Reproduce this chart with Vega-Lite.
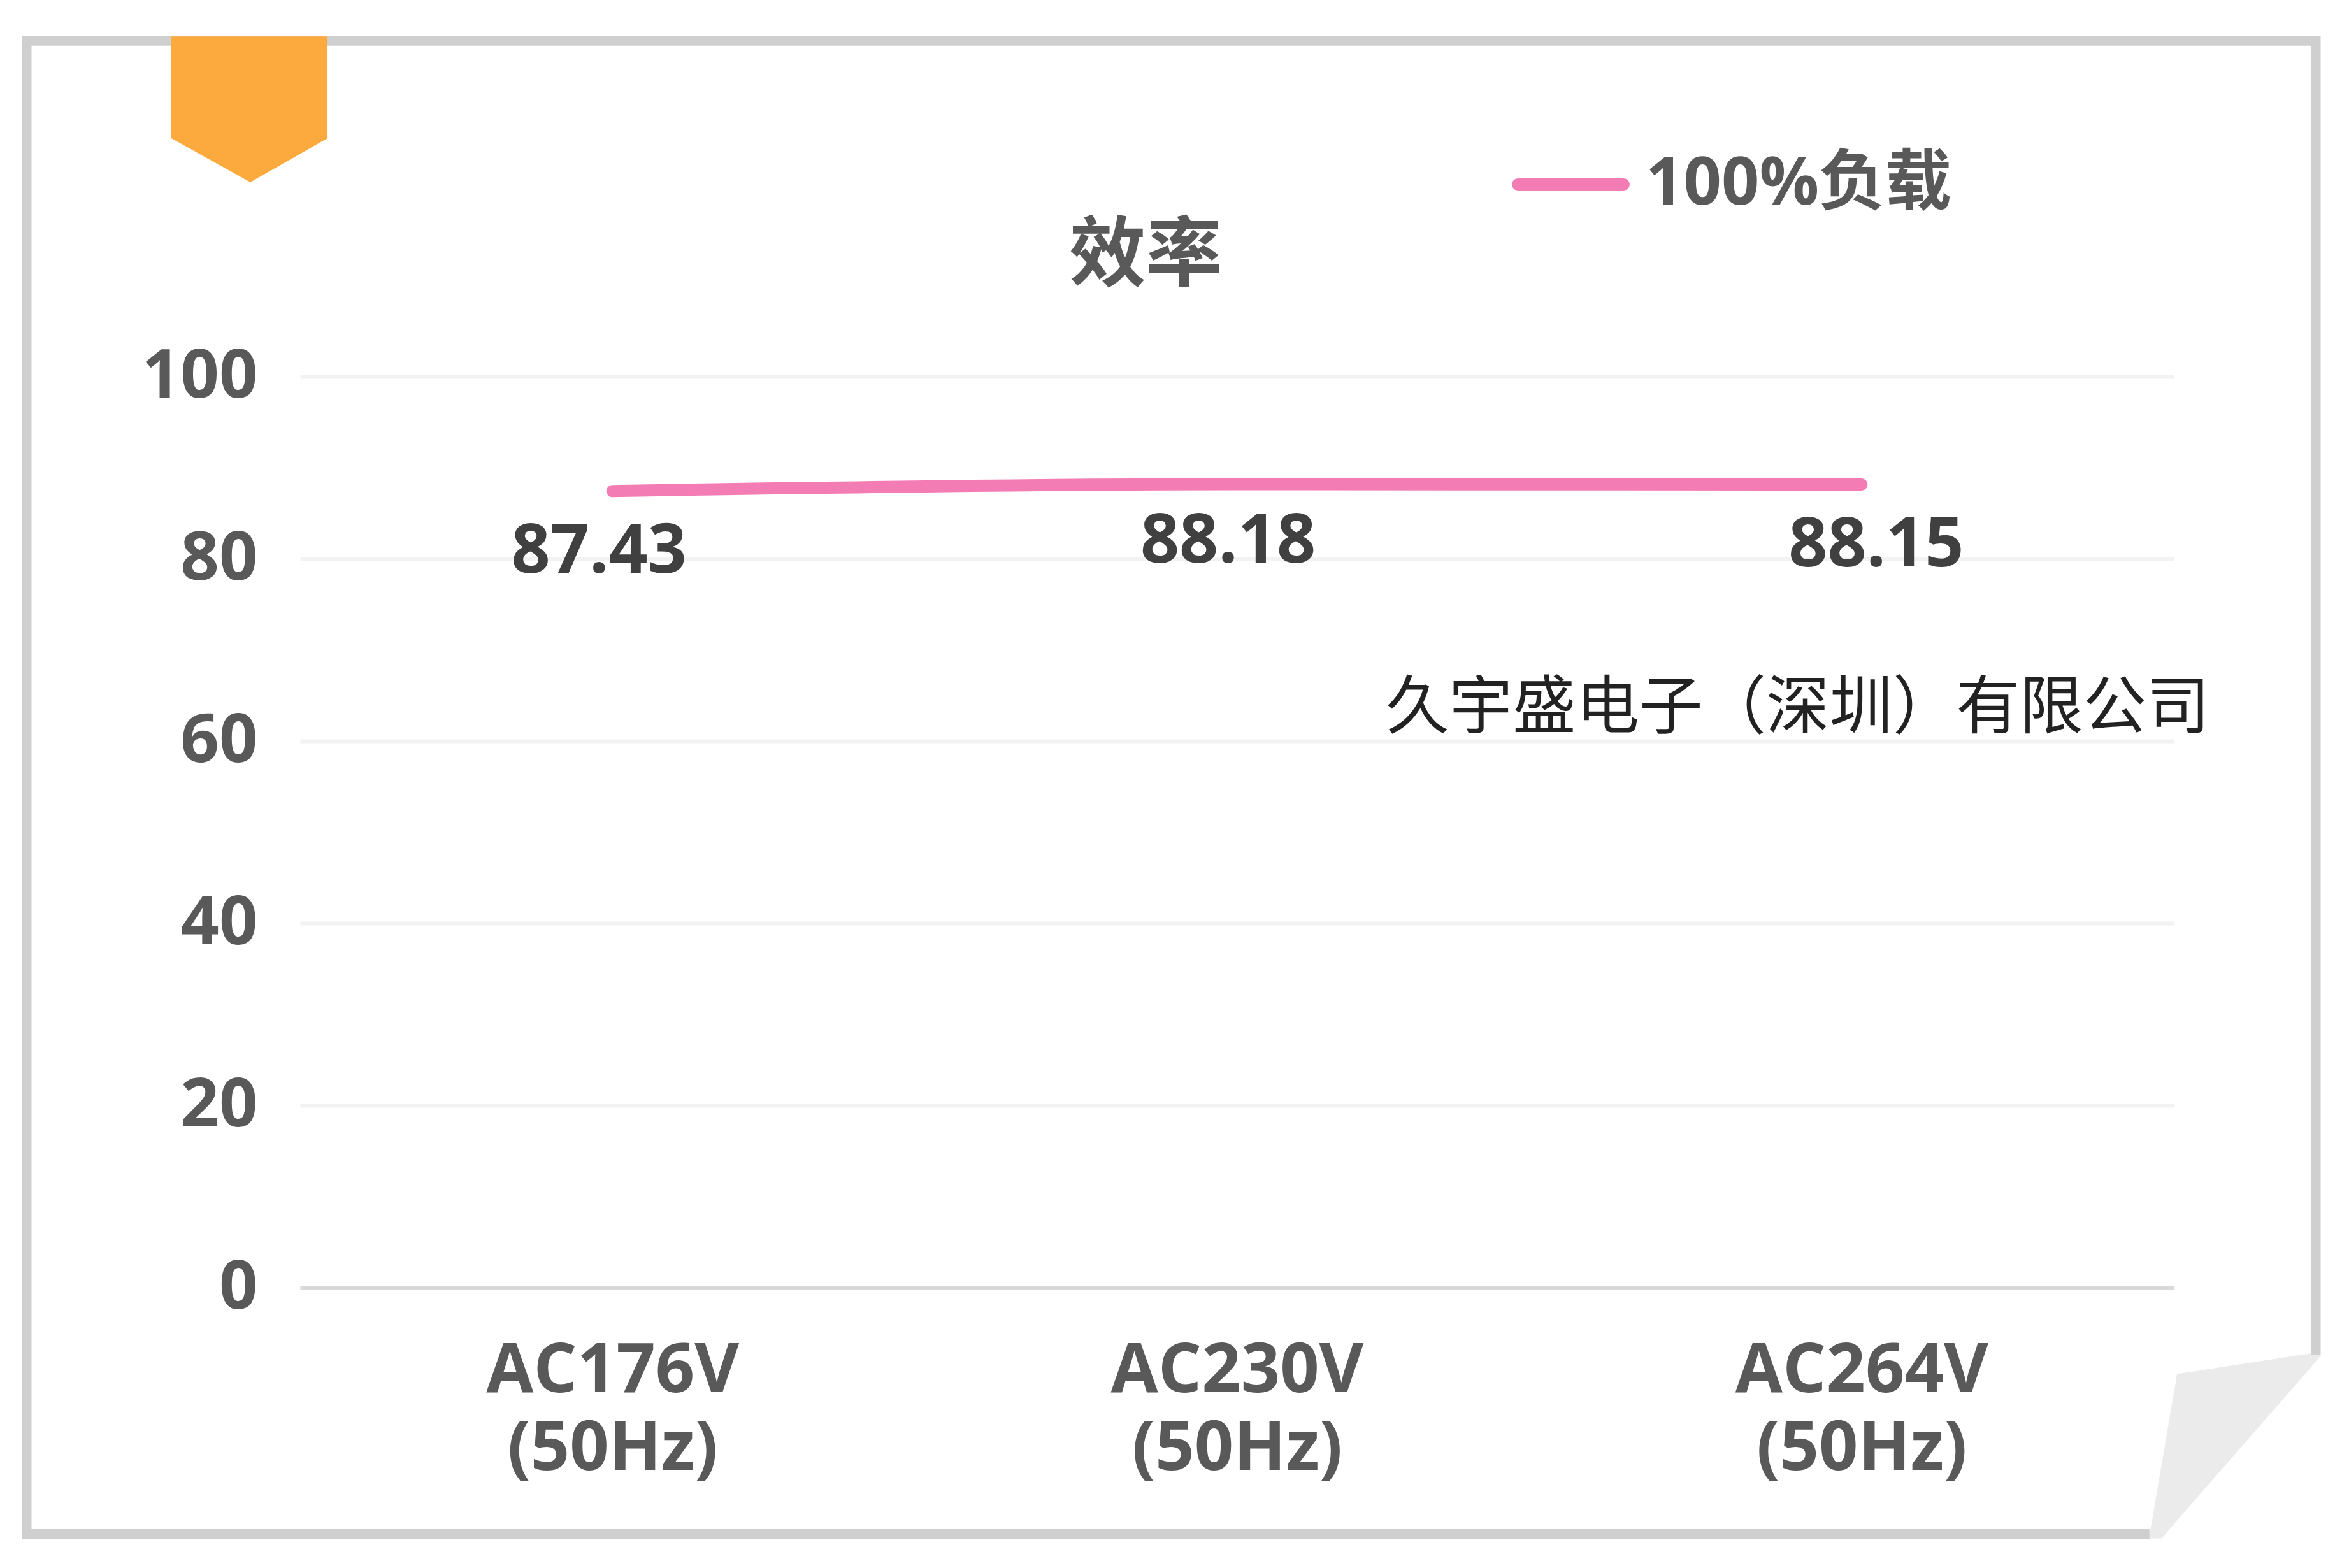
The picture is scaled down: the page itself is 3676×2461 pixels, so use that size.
{
"$schema":"https://vega.github.io/schema/vega-lite/v6.json",
"width":2941,"height":1430,
"autosize":{"type":"none"},
"padding":{"left":471,"top":591,"right":264,"bottom":440},
"background":"white",
"config":{"view":{"stroke":null},"font":"Open Sans, Noto Sans CJK SC"},
"title":{"text":"效率","font":"Noto Sans CJK SC","fontSize":120,"fontWeight":"bold","color":"#595959","anchor":"middle","frame":"group","dx":-143,"offset":-431},
"datasets":{
"main":[{"voltage":"AC176V (50Hz)","efficiency":87.43,"series":"100%负载"},{"voltage":"AC230V (50Hz)","efficiency":88.18,"series":"100%负载"},{"voltage":"AC264V (50Hz)","efficiency":88.15,"series":"100%负载"}],
"frame":[{"o":1,"u":2.961,"v":-27.02},{"o":2,"u":-0.4376,"v":-27.02},{"o":3,"u":-0.4376,"v":136.84},{"o":4,"u":3.2275,"v":136.84},{"o":5,"u":3.2275,"v":-7.375}],
"ribbon":[{"u":-0.2061,"top":137.33,"bottom":126.15},{"u":-0.0796,"top":137.33,"bottom":121.32},{"u":0.0439,"top":137.33,"bottom":126.15}],
"curl":[{"u":2.9603,"top":-27.51,"bottom":-27.51},{"u":2.9807,"top":-19.33,"bottom":-27.51},{"u":3.0052,"top":-9.47,"bottom":-25.55},{"u":3.2173,"top":-7.24,"bottom":-8.91},{"u":3.2357,"top":-7.44,"bottom":-7.44}],
"note":[{"u":2.398,"v":63.5,"label":"久宇盛电子（深圳）有限公司"}]
},
"resolve":{"scale":{"x":"independent"},"axis":{"y":"independent"}},
"layer":[
{"data":{"name":"main"},"mark":{"type":"line","interpolate":"monotone","strokeWidth":19,"strokeCap":"round","clip":false},
"encoding":{
"x":{"field":"voltage","type":"nominal","sort":null,"scale":{"domain":["AC176V (50Hz)","AC230V (50Hz)","AC264V (50Hz)"],"paddingInner":0,"paddingOuter":0},
"axis":{"title":null,"orient":"bottom","labelAngle":0,"labelFontSize":107.5,"labelFontWeight":"bold","labelColor":"#595959","labelLineHeight":122,"labelPadding":78,"labelLimit":2000,"ticks":false,"domainColor":"#D9D9D9","domainWidth":7,"grid":false,"labelExpr":"split(datum.label,' ')"}},
"y":{"field":"efficiency","type":"quantitative","scale":{"domain":[0,100],"nice":false,"zero":false},
"axis":{"title":null,"values":[0,20,40,60,80,100],"labelFontSize":106,"labelFontWeight":"bold","labelColor":"#595959","labelPadding":67,"labelLimit":1000,"ticks":false,"domain":false,"grid":true,"gridColor":"#F2F2F2","gridWidth":6}},
"color":{"field":"series","type":"nominal","scale":{"domain":["100%负载"],"range":["#F47CB5"]},
"legend":{"title":null,"orient":"none","legendX":1902,"legendY":-394,"symbolType":"stroke","symbolSize":27556,"symbolStrokeWidth":19,"labelFontSize":104,"labelFontWeight":"bold","labelColor":"#595959","labelFont":"Open Sans, Noto Sans CJK SC","labelOffset":25,"labelLimit":2000,"encode":{"symbols":{"update":{"strokeCap":{"value":"round"}}}}}}
}},
{"data":{"name":"main"},"transform":[{"filter":"datum.voltage==='AC176V (50Hz)'"}],"mark":{"type":"text","fontSize":107,"fontWeight":"bold","color":"#404040","dx":-21,"dy":96,"baseline":"middle"},
"encoding":{"x":{"field":"voltage","type":"nominal","scale":{"domain":["AC176V (50Hz)","AC230V (50Hz)","AC264V (50Hz)"],"paddingInner":0,"paddingOuter":0},"axis":null},"y":{"field":"efficiency","type":"quantitative","axis":null},"text":{"field":"efficiency","type":"quantitative","format":".2f"}}},
{"data":{"name":"main"},"transform":[{"filter":"datum.voltage==='AC230V (50Hz)'"}],"mark":{"type":"text","fontSize":107,"fontWeight":"bold","color":"#404040","dx":-14,"dy":91,"baseline":"middle"},
"encoding":{"x":{"field":"voltage","type":"nominal","scale":{"domain":["AC176V (50Hz)","AC230V (50Hz)","AC264V (50Hz)"],"paddingInner":0,"paddingOuter":0},"axis":null},"y":{"field":"efficiency","type":"quantitative","axis":null},"text":{"field":"efficiency","type":"quantitative","format":".2f"}}},
{"data":{"name":"main"},"transform":[{"filter":"datum.voltage==='AC264V (50Hz)'"}],"mark":{"type":"text","fontSize":107,"fontWeight":"bold","color":"#404040","dx":23,"dy":97,"baseline":"middle"},
"encoding":{"x":{"field":"voltage","type":"nominal","scale":{"domain":["AC176V (50Hz)","AC230V (50Hz)","AC264V (50Hz)"],"paddingInner":0,"paddingOuter":0},"axis":null},"y":{"field":"efficiency","type":"quantitative","axis":null},"text":{"field":"efficiency","type":"quantitative","format":".2f"}}},
{"data":{"name":"curl"},"mark":{"type":"area","color":"#EBEBEB","clip":false},
"encoding":{"x":{"field":"u","type":"quantitative","scale":{"domain":[0,3],"nice":false,"zero":false},"axis":null},"y":{"field":"top","type":"quantitative","axis":null},"y2":{"field":"bottom"}}},
{"data":{"name":"frame"},"mark":{"type":"line","color":"#CFCFCF","strokeWidth":15,"strokeCap":"butt","strokeJoin":"miter","clip":false},
"encoding":{"x":{"field":"u","type":"quantitative","scale":{"domain":[0,3],"nice":false,"zero":false},"axis":null},"y":{"field":"v","type":"quantitative","axis":null},"order":{"field":"o","type":"quantitative"}}},
{"data":{"name":"ribbon"},"mark":{"type":"area","color":"#FCAA3E","clip":false},
"encoding":{"x":{"field":"u","type":"quantitative","scale":{"domain":[0,3],"nice":false,"zero":false},"axis":null},"y":{"field":"top","type":"quantitative","axis":null},"y2":{"field":"bottom"}}},
{"data":{"name":"note"},"mark":{"type":"text","font":"Noto Sans CJK SC","fontSize":99.5,"fontWeight":"normal","color":"#222222","baseline":"middle"},
"encoding":{"x":{"field":"u","type":"quantitative","scale":{"domain":[0,3],"nice":false,"zero":false},"axis":null},"y":{"field":"v","type":"quantitative","axis":null},"text":{"field":"label","type":"nominal"}}}
]
}
